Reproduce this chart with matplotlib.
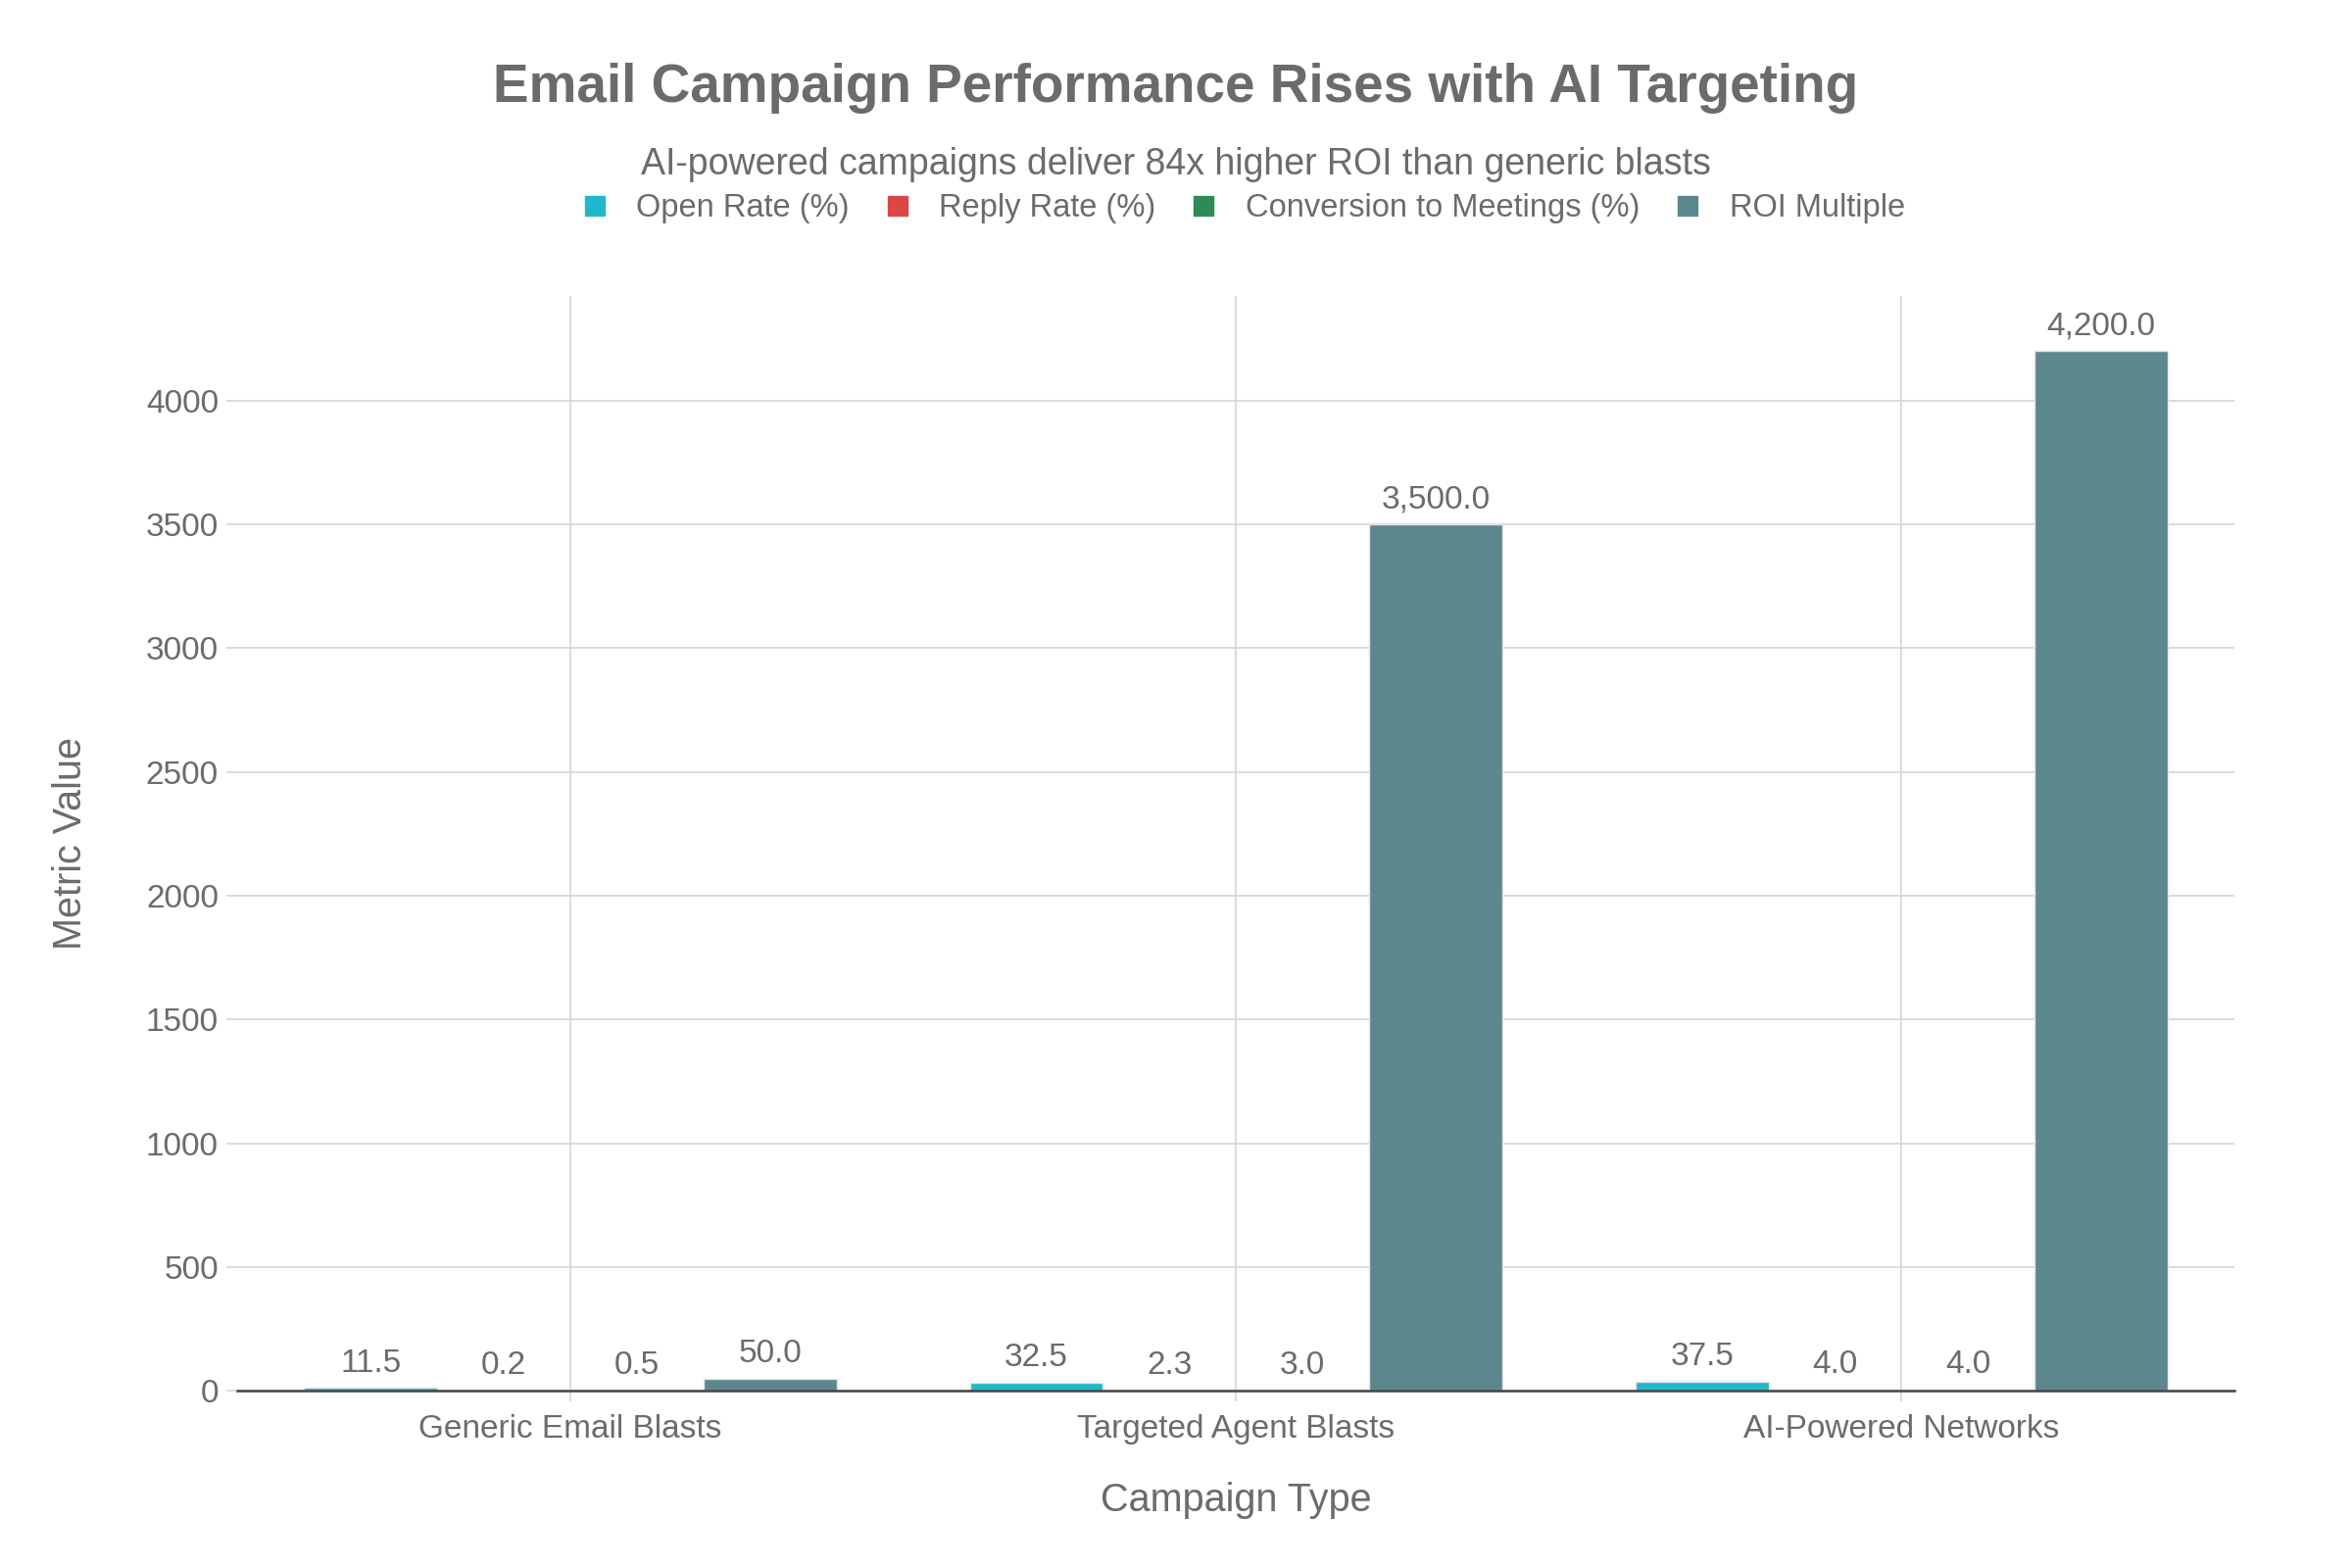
import matplotlib
matplotlib.use("Agg")
import matplotlib.pyplot as plt
import numpy as np
from matplotlib.lines import Line2D

categories = ["Generic Email Blasts", "Targeted Agent Blasts", "AI-Powered Networks"]
series_names = ["Open Rate (%)", "Reply Rate (%)", "Conversion to Meetings (%)", "ROI Multiple"]
open_rate = [11.5, 32.5, 37.5]
reply_rate = [0.2, 2.3, 4.0]
conversion = [0.5, 3.0, 4.0]
roi_multiple = [50.0, 3500.0, 4200.0]
colors = ["#1FB8CD", "#DB4545", "#2E8B57", "#5D878F"]
yticks = [0, 500, 1000, 1500, 2000, 2500, 3000, 3500, 4000]

plt.rcParams['font.family'] = ['Liberation Sans', 'DejaVu Sans']
TXT = "#6b6b6b"

fig = plt.figure(figsize=(24, 16), dpi=100)
ax = fig.add_axes([0.101, 0.113, 0.849, 0.698])

series = [open_rate, reply_rate, conversion, roi_multiple]
x = np.arange(len(categories))
bw = 0.2
for i, (vals, name, col) in enumerate(zip(series, series_names, colors)):
    pos = x + (i - 1.5) * bw
    bars = ax.bar(pos, vals, width=bw, color=col, edgecolor="#e4e4e4", linewidth=1.0, label=name, zorder=3)
    for b, v in zip(bars, vals):
        ax.annotate(f"{v:,.1f}", (b.get_x() + b.get_width() / 2, v), xytext=(0, 7),
                    textcoords="offset points", ha="center", va="bottom",
                    fontsize=24, color=TXT, zorder=4)

ax.set_xlim(-0.5, 2.5)
ax.set_ylim(0, 4421)
ax.set_yticks(yticks)
ax.set_yticklabels([str(t) for t in yticks])
ax.set_xticks(x)
ax.set_xticklabels(categories)
ax.grid(True, color="#d4d4d4", linewidth=1.2, zorder=0)
ax.set_axisbelow(True)
for s in ["top", "right", "left"]:
    ax.spines[s].set_visible(False)
ax.spines["bottom"].set_color("#444444")
ax.spines["bottom"].set_linewidth(1.8)
ax.spines["bottom"].set_zorder(5)
ax.tick_params(axis="both", colors="#d4d4d4", labelcolor=TXT, labelsize=24, length=8, width=1.2)
ax.tick_params(axis="x", pad=9)
ax.tick_params(axis="y", pad=6)

fig.text(0.5255, 0.043, "Campaign Type", ha="center", va="center", fontsize=28.5, color=TXT)
fig.text(0.030, 0.462, "Metric Value", ha="center", va="center", rotation=90, fontsize=28.5, color=TXT)

fig.text(0.5, 0.944, "Email Campaign Performance Rises with AI Targeting", ha="center", va="center",
         fontsize=39.5, fontweight="bold", color=TXT)
fig.text(0.5, 0.895, "AI-powered campaigns deliver 84x higher ROI than generic blasts", ha="center",
         va="center", fontsize=27, color=TXT)

handles = [Line2D([0], [0], marker="s", linestyle="none", markersize=15, markerfacecolor=c,
                  markeredgecolor=c) for c in colors]
fig.legend(handles, series_names, loc="center", bbox_to_anchor=(0.528, 0.867), ncol=4, frameon=False,
           fontsize=23.5, labelcolor=TXT, handletextpad=0.8, columnspacing=1.0, handlelength=1.0)

fig.savefig("out.png", dpi=100, facecolor="white")
